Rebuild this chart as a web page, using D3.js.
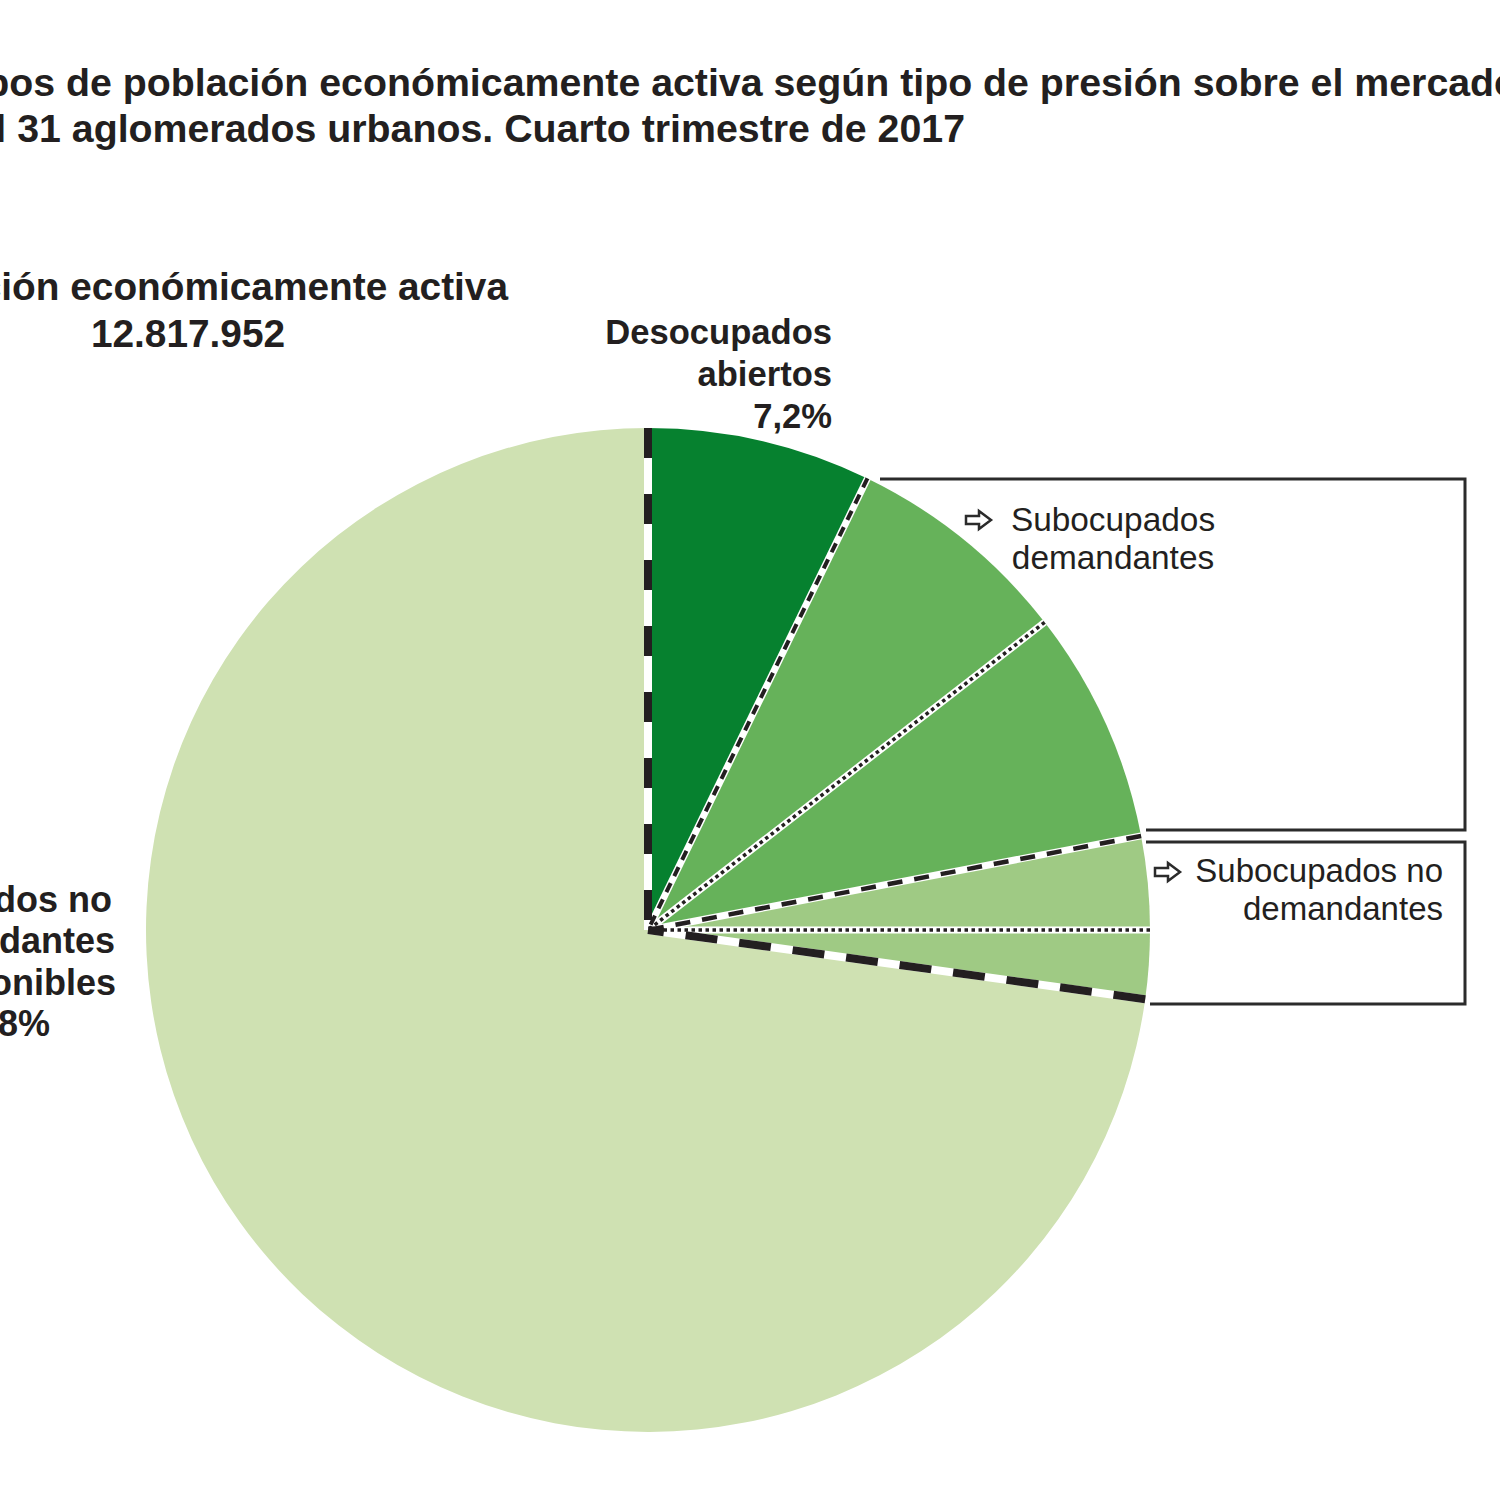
<!DOCTYPE html>
<html>
<head>
<meta charset="utf-8">
<script src="https://cdn.jsdelivr.net/npm/d3@7"></script>
<style>
  body { margin: 0; background: #ffffff; }
  svg { display: block; }
  text { font-family: 'Liberation Sans', Arial, sans-serif; fill: #231f20; }
</style>
</head>
<body>
<script>
// data
const categories = [
    'Desocupados abiertos',
    'Subocupados demandantes',
    'Otros ocupados demandantes',
    'Subocupados no demandantes',
    'Otros ocupados no demandantes disponibles',
    'Ocupados no demandantes no disponibles'
]
const values = [7.2, 7.3, 7.5, 3.0, 2.2, 72.8]
const pea_total = '12.817.952'
const title_lines = [
    'Grupos de población económicamente activa según tipo de presión sobre el mercado laboral.',
    'Total 31 aglomerados urbanos. Cuarto trimestre de 2017'
]
const pea_lines = ['Población económicamente activa', pea_total]
const deso_lines = ['Desocupados', 'abiertos', '7,2%']
const big_lines = ['Ocupados no', 'demandantes', 'no disponibles', '72,8%']
const sub_dem_lines = ['Subocupados', 'demandantes']
const sub_nodem_lines = ['Subocupados no', 'demandantes']

// styles
const slice_colors = ['#06812f', '#66b25a', '#66b25a', '#9fca84', '#9fca84', '#cfe1b2']
// boundary i is the start edge of slice i (boundary 0 is the 12 o'clock edge)
const boundary_styles = [
    {white: 8, black: 8, dash: '30,36'},
    {white: 7, black: 4, dash: '10,8'},
    {white: 7, black: 3.5, dash: '3.5,3.5'},
    {white: 7, black: 4.5, dash: '15,12'},
    {white: 7, black: 3.5, dash: '3.5,3.5'},
    {white: 8, black: 8, dash: '32,22'},
]

const width = 1500, height = 1500
const center = {x: 648, y: 930}
const radius = 502

const svg = d3.select('body').append('svg')
    .attr('width', width)
    .attr('height', height)

svg.append('rect').attr('width', width).attr('height', height).attr('fill', '#ffffff')

// pie
const pie = d3.pie().sort(null).value(d => d)
const arcs = pie(values)
const arc = d3.arc().innerRadius(0).outerRadius(radius)
const g = svg.append('g').attr('transform', `translate(${center.x},${center.y})`)

g.selectAll('path.slice')
    .data(arcs)
    .enter()
    .append('path')
    .attr('class', 'slice')
    .attr('d', arc)
    .attr('fill', (_, i) => slice_colors[i])

// slice edges: white band first, black dashes on top, drawn from the rim inward
const edges = arcs.map((a, i) => ({angle: a.startAngle, style: boundary_styles[i]}))
const edge_end = d => [Math.sin(d.angle) * radius, -Math.cos(d.angle) * radius]

g.selectAll('line.edge-white')
    .data(edges)
    .enter()
    .append('line')
    .attr('x1', d => edge_end(d)[0])
    .attr('y1', d => edge_end(d)[1])
    .attr('x2', 0).attr('y2', 0)
    .attr('stroke', '#ffffff')
    .attr('stroke-width', d => d.style.white)

g.selectAll('line.edge-black')
    .data(edges)
    .enter()
    .append('line')
    .attr('x1', d => edge_end(d)[0])
    .attr('y1', d => edge_end(d)[1])
    .attr('x2', 0).attr('y2', 0)
    .attr('stroke', '#231f20')
    .attr('stroke-width', d => d.style.black)
    .attr('stroke-dasharray', d => d.style.dash)

// boxes round the two groups of subocupados
const box_stroke = {stroke: '#2b2b2b', width: 3}
const polylines = [
    [[880, 479], [1465, 479], [1465, 830], [1146, 830]],
    [[1146, 842], [1465, 842], [1465, 1004], [1150, 1004]]
]
svg.selectAll('path.box')
    .data(polylines)
    .enter()
    .append('path')
    .attr('d', d => d3.line()(d))
    .attr('fill', 'none')
    .attr('stroke', box_stroke.stroke)
    .attr('stroke-width', box_stroke.width)

// outlined arrows
function arrow(x, y) {
    return `M${x},${y - 4} L${x + 13},${y - 4} L${x + 13},${y - 9} L${x + 25},${y} L${x + 13},${y + 9} L${x + 13},${y + 4} L${x},${y + 4} Z`
}
svg.selectAll('path.arrow')
    .data([[966, 520], [1155, 872]])
    .enter()
    .append('path')
    .attr('d', d => arrow(d[0], d[1]))
    .attr('fill', '#ffffff')
    .attr('stroke', '#2b2b2b')
    .attr('stroke-width', 2.5)
    .attr('stroke-linejoin', 'miter')

// title: second line ends at x=965, first line starts where the second does
const title_size = '39.3px'
const t2 = svg.append('text')
    .text(title_lines[1])
    .attr('x', 965).attr('y', 142)
    .attr('text-anchor', 'end')
    .style('font-size', title_size).style('font-weight', 'bold')
const t2_start = 965 - t2.node().getComputedTextLength()
svg.append('text')
    .text(title_lines[0])
    .attr('x', t2_start).attr('y', 96)
    .style('font-size', title_size).style('font-weight', 'bold')

// population label
svg.append('text').text(pea_lines[0])
    .attr('x', 508).attr('y', 300).attr('text-anchor', 'end')
    .style('font-size', '38.8px').style('font-weight', 'bold')
svg.append('text').text(pea_lines[1])
    .attr('x', 188).attr('y', 347).attr('text-anchor', 'middle')
    .style('font-size', '38.8px').style('font-weight', 'bold')

// desocupados label
svg.selectAll('text.deso')
    .data(deso_lines)
    .enter()
    .append('text')
    .text(d => d)
    .attr('x', 832)
    .attr('y', (_, i) => 344 + i * 42)
    .attr('text-anchor', 'end')
    .style('font-size', '34.6px').style('font-weight', 'bold')

// big slice label
const big_ends = [112, 115, 116, 50]
svg.selectAll('text.big')
    .data(big_lines)
    .enter()
    .append('text')
    .text(d => d)
    .attr('x', (_, i) => big_ends[i])
    .attr('y', (_, i) => 912 + i * 41.3)
    .attr('text-anchor', 'end')
    .style('font-size', '36px').style('font-weight', 'bold')

// subocupados labels
svg.selectAll('text.subdem')
    .data(sub_dem_lines)
    .enter()
    .append('text')
    .text(d => d)
    .attr('x', 1113)
    .attr('y', (_, i) => 531 + i * 38)
    .attr('text-anchor', 'middle')
    .style('font-size', '33.4px')
svg.selectAll('text.subnodem')
    .data(sub_nodem_lines)
    .enter()
    .append('text')
    .text(d => d)
    .attr('x', 1443)
    .attr('y', (_, i) => 882 + i * 38)
    .attr('text-anchor', 'end')
    .style('font-size', '33px')
</script>
</body>
</html>
